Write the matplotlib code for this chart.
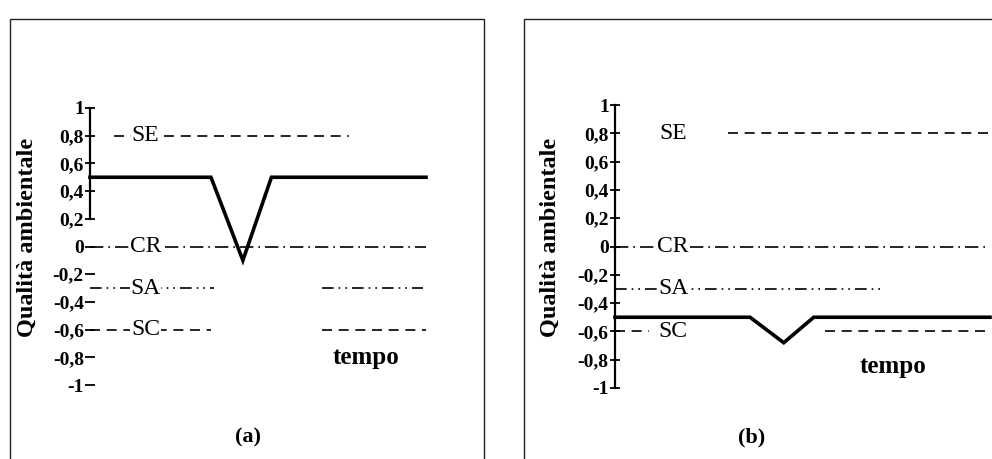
import numpy as np
import matplotlib.pyplot as plt
from matplotlib.patches import Rectangle

plt.rcParams['font.family'] = ['Liberation Serif', 'DejaVu Serif']

# tempo (unita' arbitrarie) e qualita' ambientale
t_a = [0, 36, 45.5, 54, 100]
q_a = [0.5, 0.5, -0.1, 0.5, 0.5]
t_b = [0, 36, 45, 53, 100]
q_b = [-0.5, -0.5, -0.68, -0.5, -0.5]

soglie = ['SE', 'CR', 'SA', 'SC']
valori_soglie = [0.8, 0, -0.3, -0.6]

# tratti visibili delle soglie (inizio, fine) nei due pannelli
tratti_a = {'SE': [(7, 77)], 'CR': [(0, 100)], 'SA': [(0, 37), (69, 99)], 'SC': [(0, 36), (69, 100)]}
tratti_b = {'SE': [(30, 100)], 'CR': [(0, 100)], 'SA': [(0, 72)], 'SC': [(0, 9), (56, 100)]}

yticks = [1, 0.8, 0.6, 0.4, 0.2, 0, -0.2, -0.4, -0.6, -0.8, -1]
ytick_labels = ['1', '0,8', '0,6', '0,4', '0,2', '0', '-0,2', '-0,4', '-0,6', '-0,8', '-1']

stili = {'SE': (0, (6, 4)), 'CR': (0, (8, 3, 1, 3)), 'SA': (0, (7, 3, 1, 3, 1, 3)), 'SC': (0, (6, 4))}

W, H = 992, 459
fig = plt.figure(figsize=(W / 100, H / 100), dpi=100)

# cornici dei due riquadri
fig.patches.append(Rectangle((10 / W, -0.01), 474 / W, (H - 19) / H + 0.01,
                             transform=fig.transFigure, fill=False, lw=1.0, ec='#222222'))
fig.patches.append(Rectangle((524 / W, -0.01), 470 / W, (H - 19) / H + 0.01,
                             transform=fig.transFigure, fill=False, lw=1.0, ec='#222222'))


def pannello(pos, t, q, tratti, x_lab, tempo_xy, spine_bounds, ylab_x, lettera_x, lettera):
    ax = fig.add_axes(pos)
    ax.set_xlim(0, 100)
    ax.set_ylim(-1, 1)
    for s in ['top', 'right', 'bottom']:
        ax.spines[s].set_visible(False)
    ax.spines['left'].set_bounds(*spine_bounds)
    ax.spines['left'].set_linewidth(1.6)
    ax.set_xticks([])
    ax.set_yticks(yticks)
    ax.set_yticklabels(ytick_labels, fontsize=14, fontweight='bold')
    ax.tick_params(axis='y', direction='inout', length=7, width=1.3, pad=1)

    for nome, val in zip(soglie, valori_soglie):
        for x0, x1 in tratti[nome]:
            ax.plot([x0, x1], [val, val], color='black', lw=1.2, ls=stili[nome], clip_on=False)
        ax.text(x_lab, val, nome, fontsize=17, ha='center', va='center',
                bbox=dict(fc='white', ec='none', pad=0.5))

    ax.plot(t, q, color='black', lw=2.6, clip_on=False, solid_joinstyle='miter')
    ax.text(tempo_xy[0], tempo_xy[1], 'tempo', fontsize=18, fontweight='bold',
            ha='center', va='center')

    fig.text(ylab_x / W, 1 - 237 / H, 'Qualità ambientale', rotation=90, fontsize=17.5,
             fontweight='bold', ha='center', va='center')
    fig.text(lettera_x / W, 1 - 437 / H, lettera, fontsize=16, fontweight='bold',
             ha='center', va='center')
    return ax


pannello([90 / W, (H - 385) / H, 336 / W, 277 / H], t_a, q_a, tratti_a, 16.5,
         (82, -0.8), (0.2, 1), 27, 248, '(a)')
pannello([615 / W, (H - 388) / H, 375 / W, 283 / H], t_b, q_b, tratti_b, 15.5,
         (74, -0.85), (-1, 1), 550, 752, '(b)')

fig.savefig('out.png', dpi=100)
